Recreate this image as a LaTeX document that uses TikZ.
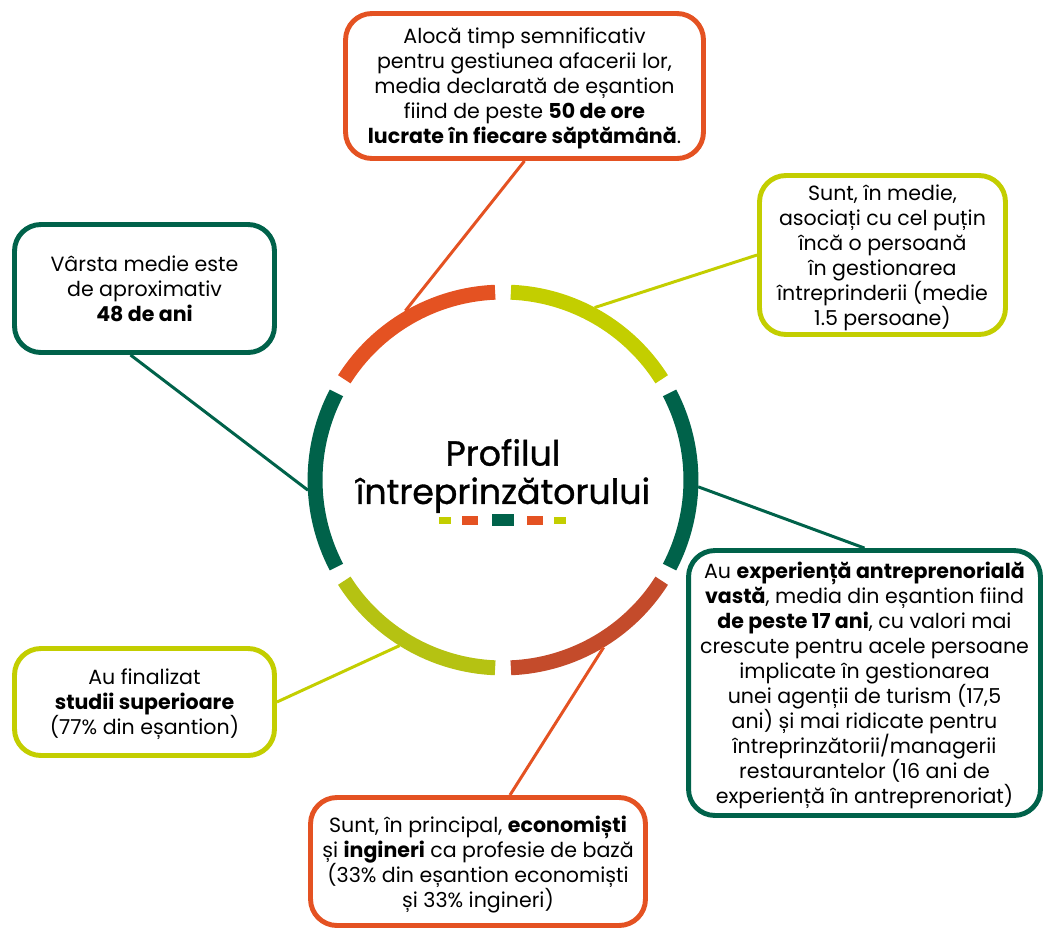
\documentclass[tikz,border=0pt]{standalone}
\usepackage{fontspec}
\setmainfont{Poppins}
\newfontfamily\titlefont{Poppins}[FakeBold=1]
\usetikzlibrary{positioning,calc}
\definecolor{orangeR}{HTML}{E45222}
\definecolor{limeR}{HTML}{C3CE00}
\definecolor{oliveR}{HTML}{B5C212}
\definecolor{greenR}{HTML}{00624A}
\definecolor{rustR}{HTML}{C44B2B}
\tikzstyle{infobox} = [draw, line width=2.8pt, rounded corners=15pt, fill=white, text=black, align=center, inner sep=0pt, font=\fontsize{11.7}{14.2}\selectfont, text depth=-2pt]
\tikzstyle{link} = [line width=1.7pt]
\tikzstyle{seg} = [line width=8.5pt]

\begin{document}
\begin{tikzpicture}[x=0.02cm,y=-0.02cm]
  \useasboundingbox (0,0) rectangle (1045,930);

  % central ring
  \node[circle, minimum size=7.8cm, inner sep=0pt] (ring) at (503,480) {};
  \foreach \a/\c in {30/limeR, 90/orangeR, 150/greenR, 210/oliveR, 270/rustR, 330/greenR}
    \draw[seg, \c] ([shift={(\a+2.4:3.76cm)}]ring.center) arc[start angle=\a+2.4, end angle=\a+57.6, radius=3.76cm];
  \node[font=\titlefont\fontsize{19.8}{21.8}\selectfont, align=center] (title) at (503,476) {Profilul\\întreprinzătorului};
  \foreach \x/\w/\h/\c in {445/12/7/limeR, 470/16/9/orangeR, 503/22/12/greenR, 535/16/9/orangeR, 560/12/7/limeR}
    \fill[\c] ({\x-\w/2},{520-\h/2}) rectangle ({\x+\w/2},{520+\h/2});

  % boxes
  \node[infobox, draw=orangeR, minimum width=7.16cm, minimum height=2.9cm] (alocbox) at (524.5,86)
    {Alocă timp semnificativ\\pentru gestiunea afacerii lor,\\media declarată de eșantion\\fiind de peste \textbf{50 de ore}\\\textbf{lucrate în fiecare săptămână}.};
  \node[infobox, draw=limeR, minimum width=4.92cm, minimum height=3.18cm] (asocbox) at (882.5,255)
    {Sunt, în medie,\\asociați cu cel puțin\\încă o persoană\\în gestionarea\\întreprinderii (medie\\1.5 persoane)};
  \node[infobox, draw=greenR, minimum width=5.2cm, minimum height=2.56cm] (agebox) at (144.5,288.5)
    {Vârsta medie este\\de aproximativ\\\textbf{48 de ani}};
  \node[infobox, draw=greenR, minimum width=7.04cm, minimum height=5.3cm] (expbox) at (864.5,683)
    {Au \textbf{experiență antreprenorială}\\\textbf{vastă}, media din eșantion fiind\\\textbf{de peste 17 ani}, cu valori mai\\crescute pentru acele persoane\\implicate în gestionarea\\unei agenții de turism (17,5\\ani) și mai ridicate pentru\\întreprinzătorii/managerii\\restaurantelor (16 ani de\\experiență în antreprenoriat)};
  \node[infobox, draw=orangeR, minimum width=6.7cm, minimum height=2.56cm] (ecobox) at (478,861.5)
    {Sunt, în principal, \textbf{economiști}\\și \textbf{ingineri} ca profesie de bază\\(33\% din eșantion economiști\\și 33\% ingineri)};
  \node[infobox, draw=limeR, minimum width=5.2cm, minimum height=2.14cm] (studbox) at (144.5,702)
    {Au finalizat\\\textbf{studii superioare}\\(77\% din eșantion)};

  % connectors
  \draw[link, orangeR] (alocbox.south) -- (ring.120);
  \draw[link, limeR] (asocbox.west) -- (ring.62);
  \draw[link, greenR] ([xshift=-0.28cm]agebox.south) -- (ring.183);
  \draw[link, greenR] (ring.358) -- (expbox.north);
  \draw[link, orangeR] ([xshift=0.64cm]ecobox.north) -- (ring.301);
  \draw[link, limeR] (studbox.east) -- (ring.238);
\end{tikzpicture}
\end{document}
